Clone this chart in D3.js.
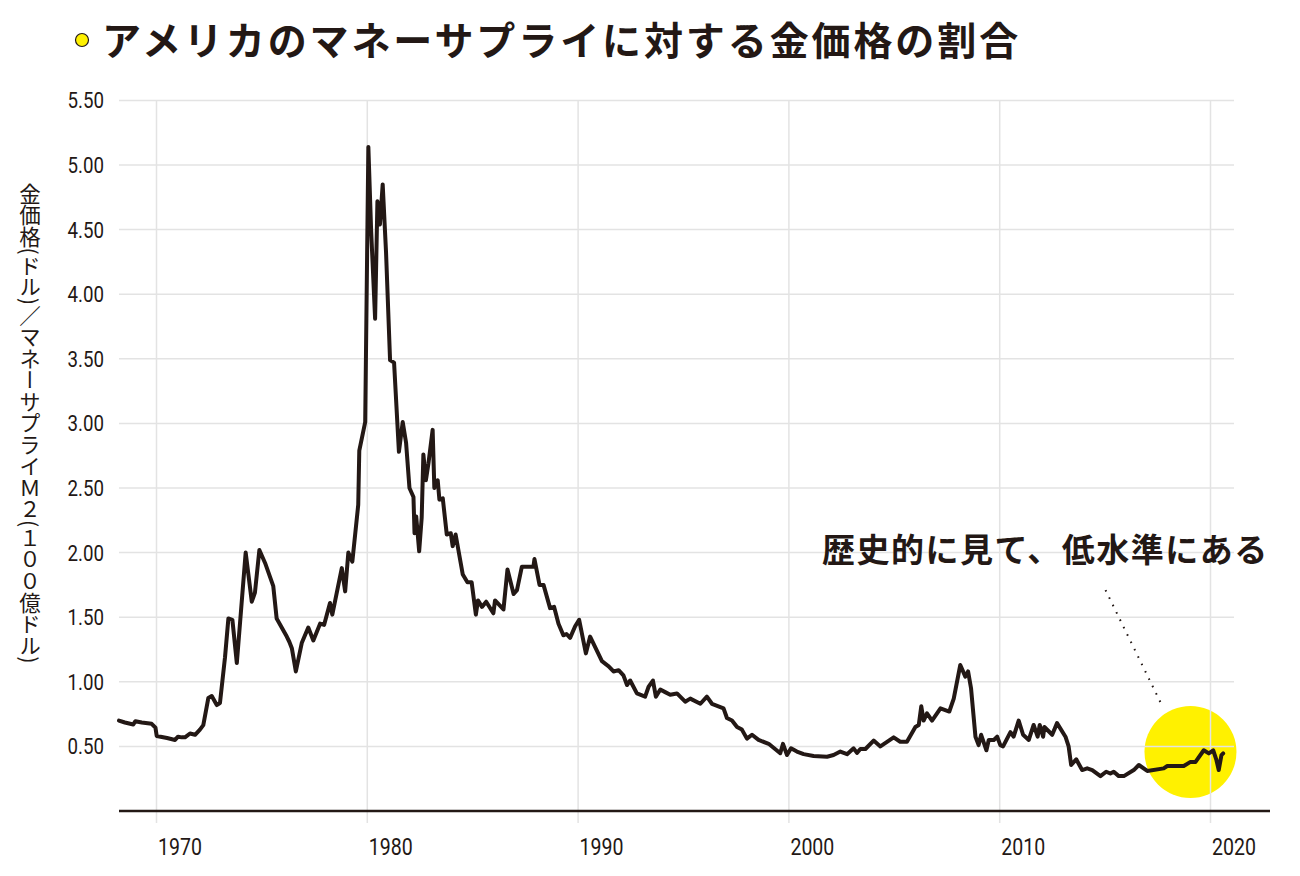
<!DOCTYPE html>
<html>
<head>
<meta charset="utf-8">
<script src="https://cdnjs.cloudflare.com/ajax/libs/d3/7.8.5/d3.min.js"></script>
<style>
  body { margin: 0; background: #fff; }
  svg { display: block; }
</style>
</head>
<body>
<script>
// gold price / M2 money supply
const years = [
  1968.22, 1968.5, 1968.9, 1969.0, 1969.3, 1969.77, 1969.95, 1970.01, 1970.5, 1970.88,
  1971.02, 1971.2, 1971.35, 1971.59, 1971.83, 1972.06, 1972.22, 1972.46, 1972.62, 1972.86,
  1973.01, 1973.25, 1973.41, 1973.6, 1973.81, 1974.23, 1974.52, 1974.67, 1974.88, 1975.15,
  1975.54, 1975.7, 1976.18, 1976.3, 1976.42, 1976.61, 1976.89, 1977.2, 1977.44, 1977.76,
  1977.95, 1978.23, 1978.34, 1978.79, 1978.95, 1979.1, 1979.29, 1979.57, 1979.62, 1979.9,
  1980.05, 1980.18, 1980.37, 1980.48, 1980.6, 1980.73, 1980.89, 1981.08, 1981.27, 1981.5,
  1981.68, 1981.84, 1982.0, 1982.19, 1982.24, 1982.32, 1982.46, 1982.58, 1982.66, 1982.78,
  1982.9, 1983.1, 1983.18, 1983.34, 1983.42, 1983.58, 1983.77, 1983.96, 1984.05, 1984.19,
  1984.53, 1984.75, 1984.95, 1985.15, 1985.25, 1985.44, 1985.64, 1985.98, 1986.06, 1986.46,
  1986.65, 1986.94, 1987.1, 1987.33, 1987.88, 1987.93, 1988.17, 1988.36, 1988.67, 1988.86,
  1989.07, 1989.3, 1989.45, 1989.62, 1989.86, 1990.05, 1990.37, 1990.57, 1991.13, 1991.45,
  1991.68, 1991.92, 1992.15, 1992.32, 1992.47, 1992.79, 1993.18, 1993.34, 1993.55, 1993.69,
  1993.9, 1994.13, 1994.37, 1994.69, 1995.08, 1995.32, 1995.8, 1996.11, 1996.35, 1996.9,
  1997.06, 1997.3, 1997.54, 1997.77, 1998.01, 1998.25, 1998.56, 1999.04, 1999.59, 1999.72,
  1999.91, 2000.1, 2000.38, 2000.7, 2001.17, 2001.81, 2002.12, 2002.44, 2002.76, 2003.07,
  2003.23, 2003.39, 2003.63, 2004.02, 2004.34, 2004.97, 2005.28, 2005.6, 2006.0, 2006.16,
  2006.28, 2006.39, 2006.55, 2006.79, 2007.19, 2007.61, 2007.82, 2008.13, 2008.37, 2008.5,
  2008.64, 2008.85, 2009.0, 2009.12, 2009.37, 2009.48, 2009.72, 2009.88, 2010.03, 2010.16,
  2010.51, 2010.66, 2010.9, 2011.11, 2011.38, 2011.61, 2011.8, 2011.9, 2012.06, 2012.12,
  2012.49, 2012.72, 2013.12, 2013.27, 2013.39, 2013.63, 2013.91, 2014.15, 2014.39, 2014.78,
  2015.05, 2015.25, 2015.41, 2015.65, 2015.89, 2016.36, 2016.6, 2017.0, 2017.78, 2017.95,
  2018.42, 2018.73, 2019.05, 2019.29, 2019.68, 2019.92, 2020.13, 2020.28, 2020.39, 2020.52,
  2020.6
];
const ratio = [
  0.70, 0.685, 0.67, 0.695, 0.685, 0.675, 0.645, 0.58, 0.565, 0.55,
  0.575, 0.57, 0.57, 0.60, 0.59, 0.63, 0.665, 0.875, 0.89, 0.82,
  0.835, 1.19, 1.49, 1.48, 1.145, 2.0, 1.62, 1.69, 2.02, 1.92,
  1.74, 1.49, 1.35, 1.31, 1.26, 1.08, 1.30, 1.42, 1.32, 1.45,
  1.44, 1.61, 1.52, 1.88, 1.70, 2.0, 1.93, 2.37, 2.79, 3.01,
  5.14, 4.50, 3.81, 4.72, 4.54, 4.85, 4.32, 3.49, 3.47, 2.78,
  3.01, 2.85, 2.50, 2.43, 2.15, 2.28, 2.01, 2.27, 2.76, 2.56,
  2.69, 2.95, 2.50, 2.56, 2.41, 2.42, 2.14, 2.15, 2.05, 2.14,
  1.83, 1.77, 1.77, 1.52, 1.63, 1.58, 1.62, 1.53, 1.63, 1.56,
  1.87, 1.68, 1.71, 1.89, 1.89, 1.95, 1.75, 1.75, 1.57, 1.58,
  1.45, 1.36, 1.37, 1.34, 1.43, 1.48, 1.22, 1.35, 1.16, 1.12,
  1.08, 1.09, 1.05, 0.975, 1.01, 0.91, 0.885, 0.96, 1.01, 0.885,
  0.94, 0.92, 0.90, 0.91, 0.846, 0.87, 0.83, 0.885, 0.83, 0.795,
  0.72, 0.70, 0.65, 0.63, 0.56, 0.59, 0.55, 0.52, 0.447, 0.52,
  0.433, 0.485, 0.46, 0.44, 0.426, 0.42, 0.433, 0.46, 0.44, 0.485,
  0.45, 0.48, 0.48, 0.545, 0.50, 0.57, 0.536, 0.536, 0.65, 0.666,
  0.81, 0.70, 0.756, 0.70, 0.795, 0.77, 0.87, 1.13, 1.04, 1.08,
  0.95, 0.575, 0.51, 0.59, 0.47, 0.55, 0.55, 0.575, 0.51, 0.50,
  0.61, 0.575, 0.70, 0.59, 0.55, 0.666, 0.575, 0.666, 0.575, 0.65,
  0.59, 0.68, 0.575, 0.50, 0.356, 0.40, 0.317, 0.33, 0.317, 0.27,
  0.304, 0.29, 0.304, 0.27, 0.27, 0.317, 0.356, 0.31, 0.33, 0.348,
  0.348, 0.348, 0.38, 0.38, 0.47, 0.446, 0.47, 0.395, 0.317, 0.433,
  0.446
];
const yTicks = [0.5, 1, 1.5, 2, 2.5, 3, 3.5, 4, 4.5, 5, 5.5];
const xTicks = [1970, 1980, 1990, 2000, 2010, 2020];

const title = "アメリカのマネーサプライに対する金価格の割合";
const yTitle = "金価格(ドル)／マネーサプライＭ２(１００億ドル)";
const note = "歴史的に見て、低水準にある";
// highlight circle and leader line, in data units
const spot = [2019.05, 0.457];
const leader = [[2015.02, 1.71], [2017.63, 0.84]];

const width = 1300, height = 876;
const ink = "#231815";
const numFont = "Roboto, sans-serif";
const jpFont = "'Noto Sans CJK JP', sans-serif";
const squeeze = 0.85;   // condensed look for the numbers

const svg = d3.select("body").append("svg")
  .attr("width", width).attr("height", height);

const x = d3.scaleLinear().domain([1970, 2020]).range([156.5, 1210.5]);
const y = d3.scaleLinear().domain([0, 5.5]).range([811, 100.4]);

// yellow highlight (under the grid)
svg.append("circle")
  .attr("cx", x(spot[0])).attr("cy", y(spot[1]))
  .attr("r", 46)
  .attr("fill", "#fff100");

// horizontal grid
svg.append("g")
  .selectAll("line")
  .data(yTicks)
  .enter().append("line")
    .attr("x1", 119).attr("x2", 1234)
    .attr("y1", d => y(d)).attr("y2", d => y(d))
    .attr("stroke", "#e3e3e3").attr("stroke-width", 1.5);

// vertical grid
svg.append("g")
  .selectAll("line")
  .data(xTicks)
  .enter().append("line")
    .attr("x1", d => x(d)).attr("x2", d => x(d))
    .attr("y1", y(5.5)).attr("y2", 823)
    .attr("stroke", "#e3e3e3").attr("stroke-width", 1.5);

// y labels
svg.append("g")
  .selectAll("text")
  .data(yTicks)
  .enter().append("text")
    .attr("transform", d => `translate(104,${y(d)}) scale(${squeeze},1)`)
    .attr("dy", "0.36em")
    .attr("text-anchor", "end")
    .style("font-family", numFont)
    .style("font-size", "22px")
    .style("fill", ink)
    .text(d => d3.format(".2f")(d));

// x labels
svg.append("g")
  .selectAll("text")
  .data(xTicks)
  .enter().append("text")
    .attr("transform", d => `translate(${x(d) + 1.5},855) scale(${squeeze},1)`)
    .style("font-family", numFont)
    .style("font-size", "23px")
    .style("fill", ink)
    .text(d => d);

// baseline
svg.append("line")
  .attr("x1", 119).attr("x2", 1270)
  .attr("y1", y(0)).attr("y2", y(0))
  .attr("stroke", ink).attr("stroke-width", 2.6);

// the series
let pts = years.map((yr, i) => [yr, ratio[i]]);
let line = d3.line().x(d => x(d[0])).y(d => y(d[1]));
svg.append("path")
  .attr("d", line(pts))
  .attr("fill", "none")
  .attr("stroke", ink)
  .attr("stroke-width", 4)
  .attr("stroke-linejoin", "round")
  .attr("stroke-linecap", "round");

// dotted leader
svg.append("line")
  .attr("x1", x(leader[0][0])).attr("y1", y(leader[0][1]))
  .attr("x2", x(leader[1][0])).attr("y2", y(leader[1][1]))
  .attr("stroke", ink).attr("stroke-width", 2)
  .attr("stroke-dasharray", "1.6 6.6");

// note
svg.append("text")
  .attr("x", 822).attr("y", 562)
  .style("font-family", jpFont)
  .style("font-weight", "bold")
  .style("font-size", "33px")
  .style("letter-spacing", "1.5px")
  .style("fill", ink)
  .text(note);

// title
svg.append("circle")
  .attr("cx", 82).attr("cy", 40).attr("r", 6.5)
  .attr("fill", "#fff100")
  .attr("stroke", ink).attr("stroke-width", 1.2);

svg.append("text")
  .attr("x", 102).attr("y", 55)
  .style("font-family", jpFont)
  .style("font-weight", "bold")
  .style("font-size", "39px")
  .style("letter-spacing", "2.9px")
  .style("fill", ink)
  .text(title);

// vertical y title
svg.append("text")
  .attr("x", 30).attr("y", 183)
  .style("writing-mode", "vertical-rl")
  .style("font-family", jpFont)
  .style("font-size", "21.5px")
  .style("fill", ink)
  .text(yTitle);
</script>
</body>
</html>
